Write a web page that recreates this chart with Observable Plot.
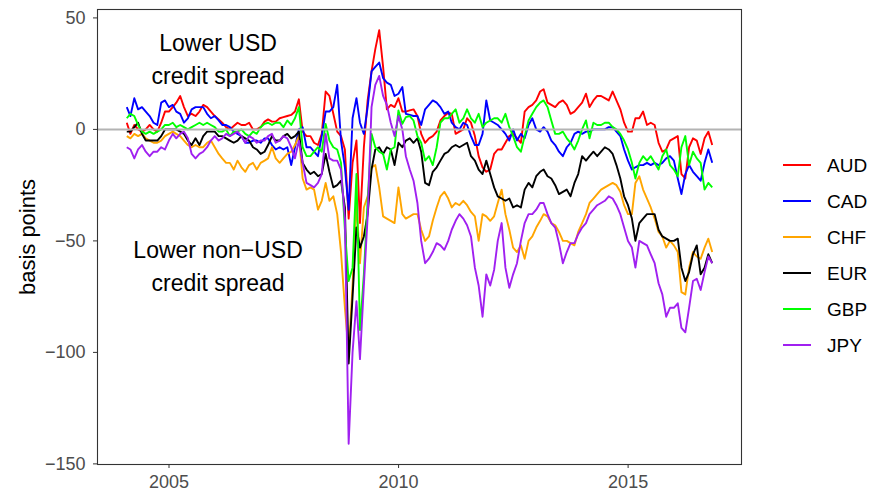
<!DOCTYPE html>
<html>
<head>
<meta charset="utf-8">
<script src="https://cdn.jsdelivr.net/npm/d3@7"></script>
<script src="https://cdn.jsdelivr.net/npm/@observablehq/plot@0.6"></script>
<style>
  body { margin: 0; background: #fff; font-family: "Liberation Sans", Arial, sans-serif; }
  #chart { position: relative; width: 870px; height: 493px; }
  #legend { position: absolute; left: 0; top: 0; }
</style>
</head>
<body>
<div id="chart"></div>
<script>
// Monthly observations, Jan 2004 – Oct 2016 (end of month)
const startMonth = "2004-01";
const endMonth = "2016-10";

const currencies = ["AUD", "CAD", "CHF", "EUR", "GBP", "JPY"];
const colors = ["#FF0000", "#0000FF", "#FFA500", "#000000", "#00FF00", "#A020F0"];

const AUD = [
  3, -2, 2, 0, -1, 0, 2, 0, -1, 3, 8,
  8, 10, 12, 15, 10, 6, 7, 6, 8, 11, 10, 8,
  6, 4.5, 3, 1, 0, 1.5, 3, 2, 2, 3, 0, 0, 1,
  3.5, 4.5, 3.5, 3.5, 5, 5.5, 6, 6.5, 8, 13.5, -1, -3,
  -3, -6, -7, -2, 17, 15, 7, -1, -3, -9, -40, -15,
  -5, -42, -8, 13, 26, 36, 44.5, 28, 9, 11, 10, 14,
  8, 8, 8.5, 9, 6, -2, -6, -4, -3, -1, 4, 6,
  7.5, 7, -2, -1, 0, 5, 3, -3, -12, -17, -19, -18,
  -11, -9, -9, -6, -3, -2, -4, -6, 8, 10, 11, 13,
  17, 18, 12, 11, 10, 12, 13, 11, 7, 8, 10, 12,
  16, 10, 13, 15, 15, 14, 13, 17, 13, 9, 3, -1,
  -1, 5, 5, 8, 2, 3, 2, -6, -10, -9, -5, -4,
  -3, -20, -22, -8, -4, -5, -11, -4, -1, -7
];
const CAD = [
  10, 6, 14, 9, 10, 8, 6, 3, 2, 12, 13,
  10, 11, 8, 7, 3, 5, 9, 10, 10, 10, 7, 5,
  6, 4, 2, 2, 1, -1, -2, -3, -6, -6, -5, -5, -6,
  -4, -4, -7, -9, -8, -9, -8, -16, -8, 0, 1, -8,
  -8, -10, -12, -3, 8, 8, 10, 20, -5, -17, -36, 5,
  14, 3, -2, 10, 26, 28, 30, 23, 21, 20, 15, 16,
  19, 7, 6.5, 6, 6, 2, 9, 11, 13, 12, 10, 7,
  8, 3, 1, 0, 3, 2, -3, -7, -7, -2, 13, 4,
  3, 2, 0, -2, -5, 0, -5, -2, -4, 2, 5, 0,
  -1, 1, -1, -5, -7, -10, -12, -8, -6, -2, -1, -2,
  -1, -1, 0, 0, 0, 0, 1, 1, -1, -3, -9, -14,
  -18, -17, -16, -16, -15, -16, -15, -16, -15, -13, -12, -14,
  -22, -29, -20, -16, -19, -21, -23, -15, -9, -15
];
const CHF = [
  -3, -4, -2, -3, -2, -4, -5, -6, -6, -5, -3,
  -2, -1, -2, -3, -5, -7, -8, -7, -8, -8, -6, -5,
  -8, -11, -13, -15, -15, -18, -14, -17, -19, -16, -15, -18, -15,
  -14, -13, -8, -13, -15, -13, -11, -10, -7, -3, -22, -27,
  -26, -27, -36, -32, -24, -32, -30, -38, -55, -80, -100, -70,
  -32, -60, -35, -30, -17, -16, -26, -39, -40, -41, -42, -26,
  -38, -40, -39, -38, -38, -45, -50, -48, -41, -35, -30, -28,
  -31, -35, -33, -34, -32, -34, -37, -39, -50, -38, -39, -41,
  -39, -33, -27, -38, -45, -53, -55, -52, -58, -50, -48, -44,
  -41, -38, -39, -42, -43, -46, -50, -50, -51, -52, -46, -42,
  -38, -33, -31, -29, -27, -26, -25, -24, -25, -28, -34, -38,
  -38, -24, -21, -27, -31, -35, -40, -46, -48, -53, -50, -52,
  -55, -73, -74, -62, -55, -57, -58, -53, -49, -55
];
const EUR = [
  -1, -1, 1, 3, -2, -5, -5, -5, -5, -3, 0,
  0, 0, 0, -1, -2, -5, -7, -4, -7, -3, -1, -1,
  -1, -3, -3, -4, -5, -6, -5, -3, -4, -5, -8, -9, -11,
  -10, -7, -3, -5, -5, -3, -2, -4, -3, -1, -15, -18,
  -20, -19, -21, -20, -11, -19, -26, -25, -23, -35, -105, -75,
  -44, -53, -48, -38, -18, -9, -8, -11, -8, -9, -16, -6,
  -8, -5, -4, -6, -4, -10, -24, -25, -19, -17, -14, -11,
  -10, -8, -7, -8, -7, -6, -12, -14, -18, -20, -14, -20,
  -26, -30, -31, -32, -31, -35, -34, -35, -27, -24, -26, -21,
  -19, -18, -21, -22, -25, -29, -28, -27, -30, -24, -20, -12,
  -14, -12, -10, -12, -10, -8, -9, -11, -16, -22, -30, -34,
  -40, -50, -42, -40, -38, -38, -38, -45, -48, -49, -50, -50,
  -49, -62, -68, -64, -56, -52, -65, -62, -56, -60
];
const GBP = [
  5, 7, 6, 2, -1, -2, -1, -2, -1, 0, 2,
  2, 3, 1, 2, 1, 0, 1, 2, 3, 2, 3, 2,
  1, -1, -1, 0, -3, -1, -1, 0, -2, -3, -1, -2, 1,
  2.5, 3, 2, 3, 3, 1, 4, 2, 5, 10, -8, -12,
  -12, -10, -8, -10, 2.5, -5, -8, -9, -15, -45, -68, -62,
  -20, -90, -65, -32, -2, -8, -10, -11, -18, -9, -8, 8.5,
  2.5, 5.5, 6, 4, -3, -6, -14, -12, -16, -8, 3, 5,
  5, 7, 9, 3, 5, 9, 5, 3, 7, 1, 3, 4,
  5, 5, 3, 7, 1, -3, -8, -10, -3, 4, 7, 10,
  12, 13, 10, 4, -2, -2, -1, -4, -6, -9, -5, 0,
  4, -4, 3, 2, 2, 3, 3, 1, 0, -2, -5, -9,
  -15, -22, -15, -12, -14, -12, -15, -18, -12, -9, -16, -18,
  -21, -8, -3, -16, -10, -13, -15, -27, -24, -26
];
const JPY = [
  -8, -9, -13, -9, -7, -10, -12, -10, -10, -8, -9,
  -5, -2, -4, -2, -1, -4, -11, -13, -11, -10, -8, -5,
  -3, -5, -4, -2, -3, -2, -1, -3, -6, -3, -4, -6, -5,
  -5, -3, -2, -6, -5, -3, -4, -8, -13, -5, -15, -24,
  -25, -26, -24, -20, -2, -13, -14, -14, -18, -40, -141, -100,
  -77, -103, -70, -39, 10, 20, 24, 15, 11, 3, -3, 6,
  0, -12, -18, -23, -33, -50, -60, -58, -55, -51, -52, -54,
  -50, -45, -41, -38, -40, -43, -48, -62, -70, -84, -65, -70,
  -63, -50, -42, -62, -71, -65, -60, -50, -42, -38, -38, -36,
  -33, -33, -38, -42, -44, -51, -60, -55, -51, -51, -47, -44,
  -42, -38, -36, -34, -33, -32, -30, -31, -34, -38, -44, -50,
  -53, -62, -50, -51, -52, -56, -60, -69, -74, -84, -80, -80,
  -78, -89, -91, -80, -68, -67, -72, -64, -57, -60
];
const seriesValues = [AUD, CAD, CHF, EUR, GBP, JPY];

const yTicks = [-150, -100, -50, 0, 50];
const xTickYears = [2005, 2010, 2015];
const yTitle = "basis points";
const annotations = [
  {date: "2006-01-26", value: 32.5, label: "Lower USD\ncredit spread"},
  {date: "2006-01-26", value: -60.4, label: "Lower non\u2212USD\ncredit spread"}
];

// Build the table
const monthStarts = d3.utcMonth.range(new Date(startMonth + "-01"), d3.utcMonth.offset(new Date(endMonth + "-01"), 1));
const dates = monthStarts.map(m => d3.utcDay.offset(d3.utcMonth.offset(m, 1), -1));
const data = currencies.flatMap((c, k) => seriesValues[k].map((v, i) => ({date: dates[i], value: v, currency: c})));
const annData = annotations.map(a => ({...a, date: new Date(a.date)}));

// ggplot-like 5% expansion
const [x0, x1] = d3.extent(dates);
const xPad = (x1 - x0) * 0.05;
const [y0, y1] = d3.extent(data, d => d.value);
const yPad = (y1 - y0) * 0.05;

const font = "'Liberation Sans', Arial, sans-serif";

const chart = Plot.plot({
  width: 870,
  height: 493,
  marginLeft: 97,
  marginRight: 129,
  marginTop: 9,
  marginBottom: 29,
  style: {fontFamily: font, background: "#fff", overflow: "visible"},
  x: {type: "utc", domain: [new Date(+x0 - xPad), new Date(+x1 + xPad)]},
  y: {domain: [y0 - yPad, y1 + yPad]},
  color: {domain: currencies, range: colors},
  marks: [
    Plot.line(data, {x: "date", y: "value", z: "currency", stroke: "currency", strokeWidth: 1.9, strokeLinejoin: "round", strokeLinecap: "butt"}),
    Plot.ruleY([0], {stroke: "#b3b3b3", strokeWidth: 2}),
    Plot.frame({stroke: "#333333", strokeWidth: 1.1}),
    Plot.axisX({
      ticks: xTickYears.map(y => new Date(Date.UTC(y, 0, 1))),
      tickFormat: d => String(d.getUTCFullYear()),
      tickSize: 4, tickPadding: 7, fontSize: 18, color: "#333333", label: null
    }),
    Plot.axisY({
      ticks: yTicks, tickFormat: d => d < 0 ? "\u2212" + Math.abs(d) : String(d),
      tickSize: 4, tickPadding: 8, fontSize: 18, color: "#333333", label: null
    }),
    Plot.text([yTitle], {frameAnchor: "left", text: d => d, rotate: -90, dx: -70, textAnchor: "middle", fontSize: 22, fill: "#000"}),
    Plot.text(annData, {x: "date", y: "value", text: "label", fontSize: 23, lineHeight: 1.43, fill: "#000"})
  ]
});

// tick label colour like ggplot (grey30)
chart.querySelectorAll('[aria-label="x-axis tick label"], [aria-label="y-axis tick label"]').forEach(g => g.setAttribute("fill", "#4D4D4D"));

const container = document.getElementById("chart");
container.appendChild(chart);

// Legend (vertical line keys on the right)
const legend = d3.select(container).append("svg")
  .attr("id", "legend").attr("width", 870).attr("height", 493)
  .style("font-family", font);
const item = legend.selectAll("g").data(currencies).join("g")
  .attr("transform", (d, i) => `translate(0, ${165 + i * 36})`);
item.append("line").attr("x1", 783).attr("x2", 811).attr("y1", 0).attr("y2", 0)
  .attr("stroke", (d, i) => colors[i]).attr("stroke-width", 2);
item.append("text").attr("x", 827).attr("y", 0).attr("dy", "0.36em")
  .attr("font-size", 19).attr("fill", "#000").text(d => d);
</script>
</body>
</html>
